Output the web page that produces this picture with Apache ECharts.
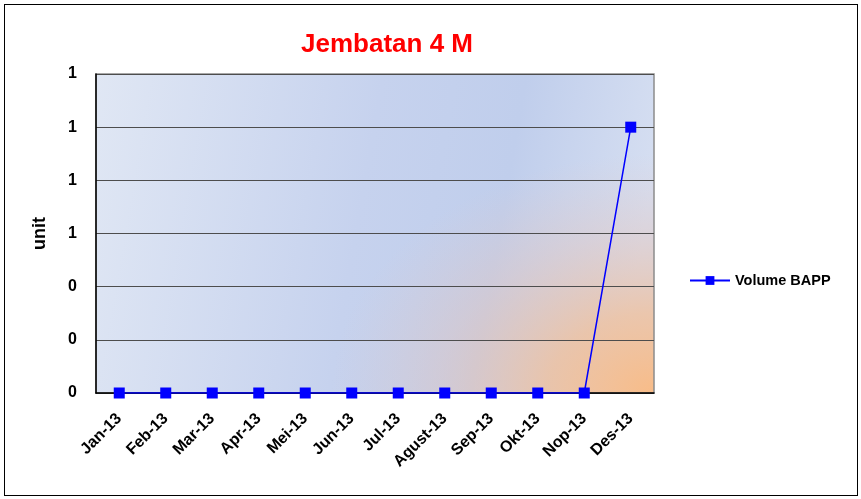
<!DOCTYPE html>
<html>
<head>
<meta charset="utf-8">
<script src="https://cdn.jsdelivr.net/npm/echarts@6/dist/echarts.min.js"></script>
<style>
  body { margin: 0; background: #fff; }
  #wrap { position: relative; width: 861px; height: 499px; }
  #chart { width: 861px; height: 499px; }
  #frame { position: absolute; left: 4px; top: 4px; width: 852px; height: 490px;
           border: 1.5px solid #000; pointer-events: none; }
</style>
</head>
<body>
<div id="wrap">
  <div id="chart"></div>
  <div id="frame"></div>
</div>
<script>
const months = ["Jan-13", "Feb-13", "Mar-13", "Apr-13", "Mei-13", "Jun-13",
                "Jul-13", "Agust-13", "Sep-13", "Okt-13", "Nop-13", "Des-13"];
const volumeBapp = [0, 0, 0, 0, 0, 0, 0, 0, 0, 0, 0, 1];
const yMin = 0, yMax = 1.2, yStep = 0.2;

const chart = echarts.init(document.getElementById("chart"));
const font = "Liberation Sans, Arial, sans-serif";

// plot box (px), only used for the background fill
const plot = { left: 96, top: 74, right: 654, bottom: 393 };
const plotW = plot.right - plot.left, plotH = plot.bottom - plot.top;
const stretch = 1.35; // orange glow is wider than tall

chart.setOption({
  animation: false,
  title: {
    text: "Jembatan 4 M",
    left: 382, top: 27, textAlign: "center",
    textStyle: { color: "#ff0000", fontSize: 26, fontWeight: "bold", fontFamily: font }
  },
  legend: {
    orient: "vertical",
    left: 684, top: 268,
    itemWidth: 40, itemHeight: 11, itemGap: 6,
    textStyle: { color: "#000", fontSize: 14.5, fontWeight: "bold", fontFamily: font },
    data: ["Volume BAPP"]
  },
  graphic: [{
    // bluish base fill of the plot area
    type: "rect",
    silent: true, z: -3,
    shape: { x: plot.left, y: plot.top, width: plotW, height: plotH },
    style: {
      fill: {
        type: "linear", x: 0, y: 0, x2: 1, y2: 0.3,
        colorStops: [
          { offset: 0, color: "#e0e7f4" },
          { offset: 0.5, color: "#c6d2ee" },
          { offset: 0.75, color: "#c0ceec" },
          { offset: 1, color: "#d5def1" }
        ]
      }
    }
  }, {
    // orange glow in the lower right corner
    type: "rect",
    silent: true, z: -2,
    x: plot.left, y: plot.top,
    scaleX: stretch,
    shape: { x: 0, y: 0, width: plotW / stretch, height: plotH },
    style: {
      fill: {
        type: "radial", x: 1, y: 1, r: 1,
        colorStops: [
          { offset: 0, color: "rgba(248,188,136,1)" },
          { offset: 0.25, color: "rgba(242,190,150,0.75)" },
          { offset: 0.5, color: "rgba(230,196,185,0.4)" },
          { offset: 0.75, color: "rgba(225,200,200,0)" },
          { offset: 1, color: "rgba(225,200,200,0)" }
        ]
      }
    }
  }],
  grid: {
    left: plot.left, right: 861 - plot.right, top: plot.top, bottom: 499 - plot.bottom,
    show: true,
    backgroundColor: "transparent",
    borderColor: "#8c8c8c", borderWidth: 1.5
  },
  xAxis: {
    type: "category",
    data: months,
    boundaryGap: true,
    axisLine: { lineStyle: { color: "#000", width: 1.5 } },
    axisTick: { show: false },
    axisLabel: {
      rotate: 45, interval: 0, margin: 23,
      color: "#000", fontSize: 16, fontWeight: "bold", fontFamily: font
    }
  },
  yAxis: {
    type: "value",
    min: yMin, max: yMax, interval: yStep,
    name: "unit",
    nameLocation: "middle", nameRotate: 90, nameGap: 47,
    nameTextStyle: { color: "#000", fontSize: 18, fontWeight: "bold", fontFamily: font },
    axisLine: { show: true, lineStyle: { color: "#000", width: 1.5 } },
    axisTick: { show: false },
    splitLine: { lineStyle: { color: "#4d4d4d", width: 1 } },
    axisLabel: {
      margin: 19,
      color: "#000", fontSize: 16, fontWeight: "bold", fontFamily: font,
      formatter: v => String(Math.round(v))
    }
  },
  series: [{
    name: "Volume BAPP",
    type: "line",
    data: volumeBapp,
    symbol: "rect",
    symbolSize: 11,
    lineStyle: { color: "#0000ff", width: 1.5 },
    itemStyle: { color: "#0000ff" }
  }]
});
</script>
</body>
</html>
